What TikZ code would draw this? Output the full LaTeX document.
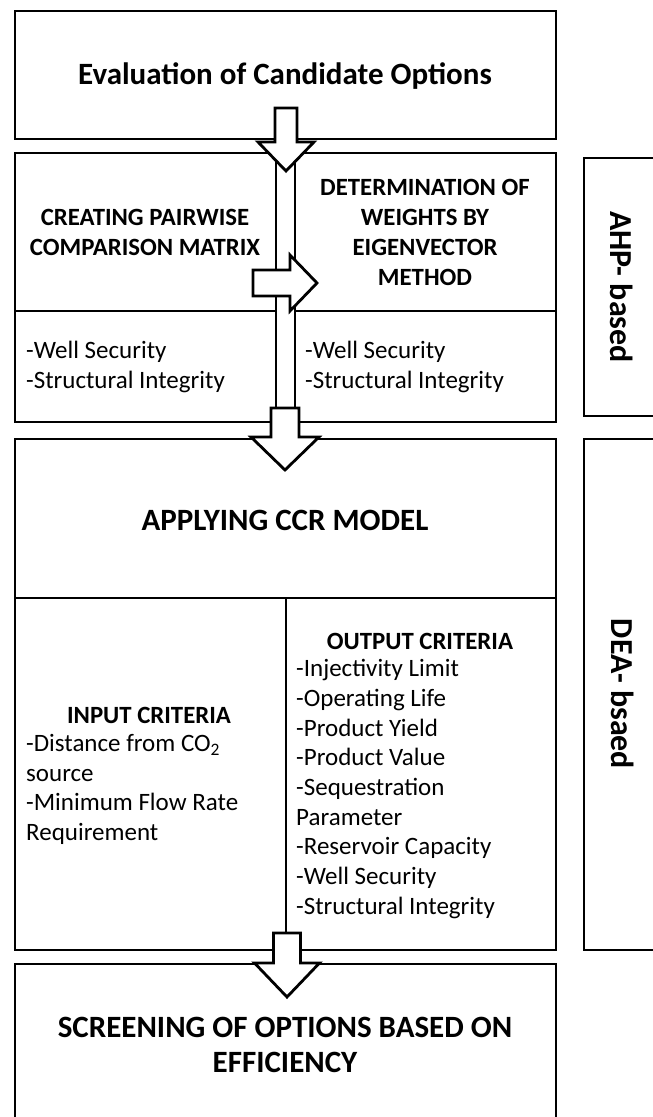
\documentclass[tikz,border=0pt]{standalone}
\usepackage{fontspec}
\setmainfont{Carlito}
\usetikzlibrary{positioning}

\tikzset{
  box/.style={draw, line width=2.8pt},
  title/.style={font=\fontsize{31}{35}\selectfont\bfseries, align=center},
  head/.style={font=\fontsize{24.8}{30}\selectfont\bfseries, align=center},
  list/.style={font=\fontsize{25}{29.7}\selectfont, align=left, anchor=west, inner sep=0pt},
  side/.style={font=\fontsize{32}{34}\selectfont\bfseries, rotate=-90},
  fatarrow/.style={draw, fill=white, line width=2.8pt, line join=miter},
  % hollow block arrow pointing down: shaft half width, head half width, shaft length, head length
  pics/downarrow/.style n args={4}{code={
    \draw[fatarrow] (-#1,0) -- (#1,0) -- (#1,#3) -- (#2,#3) -- (0,#3+#4)
      -- (-#2,#3) -- (-#1,#3) -- cycle;}}
}

\begin{document}
\begin{tikzpicture}[x=1pt,y=-1pt]

\clip (0,0) rectangle (653,1117);

% Outer boxes
\draw [box] (15,11) rectangle (556,139);
\draw [box] (15,153) rectangle (556,422);
\draw [box] (15,439) rectangle (556,950);
\draw [box] (15,964) rectangle (556,1140);

% Side boxes (run off the right edge)
\draw [box] (584,158) rectangle (670,416);
\draw [box] (584,439) rectangle (670,950);

% AHP block dividers
\draw [box] (15,311) -- (556,311);
\draw [box, fill=white] (276,153) rectangle (295,422); % centre channel

% DEA block dividers
\draw [box] (15,598) -- (556,598);
\draw [box] (286,598) -- (286,950);

% Block arrows
\coordinate (a1) at (286,108);
\coordinate (a2) at (285,408);
\coordinate (a3) at (287,933);
\coordinate (a4) at (253,283);
\pic at (a1) {downarrow={11}{28}{34}{29}};
\pic at (a2) {downarrow={14}{34}{29}{33}};
\pic at (a3) {downarrow={13.5}{32.5}{30}{34}};
\pic [rotate=90] at (a4) {downarrow={13}{28}{37}{27}};

% Texts
\node [title] (eval) at (285,76) {Evaluation of Candidate Options};

\node [head] (pairwise) at (145,232) {CREATING PAIRWISE\\COMPARISON MATRIX};
\node [head] (weights) at (425,232) {DETERMINATION OF\\WEIGHTS BY\\EIGENVECTOR\\METHOD};
\node [list] (ahpl) at (26,367) {-Well Security\\-Structural Integrity};
\node [list] (ahpr) at (305,367) {-Well Security\\-Structural Integrity};

\node [title] (ccr) at (285,520) {APPLYING CCR MODEL};

\node [head] (inhead) at (149,715) {INPUT CRITERIA};
\node [list] (inlist) at (26,789.5) {-Distance from CO\textsubscript{2}\\source\\-Minimum Flow Rate\\Requirement};

\node [head] (outhead) at (420,641) {OUTPUT CRITERIA};
\node [list] (outlist) at (296,789) {-Injectivity Limit\\-Operating Life\\-Product Yield\\-Product Value\\-Sequestration\\Parameter\\-Reservoir Capacity\\-Well Security\\-Structural Integrity};

\node [title] (screen) at (285,1045) {SCREENING OF OPTIONS BASED ON\\EFFICIENCY};

\node [side] (ahp) at (622,287) {AHP- based};
\node [side] (dea) at (623,694) {DEA- bsaed};

\end{tikzpicture}
\end{document}
